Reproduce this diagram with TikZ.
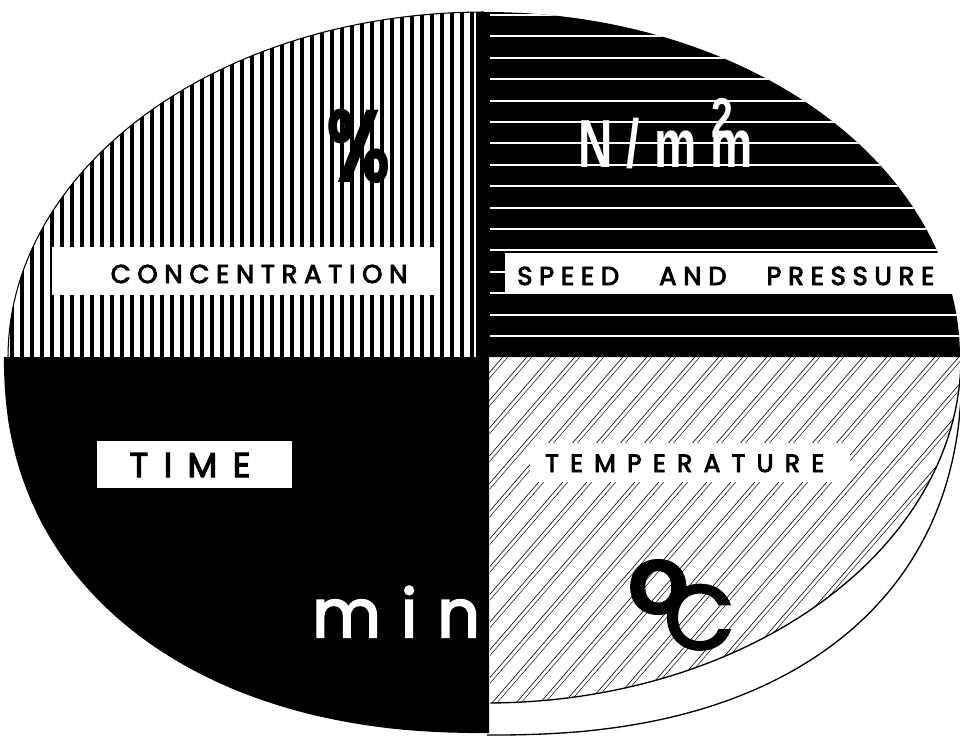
\documentclass[tikz,border=0pt]{standalone}
\usepackage{fontspec}
\usepackage{graphicx}
\setmainfont{Poppins}
\newfontfamily\labelfont[LetterSpace=26,FakeBold=3.5]{Poppins}
\newfontfamily\widefont[LetterSpace=45,FakeBold=3.5]{Poppins}
\newfontfamily\minfont[LetterSpace=30,FakeBold=3]{Poppins}
\newfontfamily\signfont[FakeBold=3]{Poppins}
\newfontfamily\unitfont[LetterSpace=30]{Liberation Sans}
\begin{document}
\begin{tikzpicture}[x=0.75pt,y=-0.75pt]
\useasboundingbox (0,0) rectangle (960,739);

% Concentration: vertical stripes
\begin{scope}
\clip (476,357) -- (476,12) -- plot[domain=90:180,samples=60,variable=\t]
  ({484+476*cos(\t)},{357-345*sin(\t)}) -- cycle;
\foreach \x in {12,22,...,472}
{
\fill (\x-1.9,0) rectangle (\x+1.9,357);
}
\end{scope}
\draw[line width=0.8pt] plot[domain=90:180,samples=60,variable=\t]
  ({484+476*cos(\t)},{357-345*sin(\t)});
\fill[white] (52,247) rectangle (437,295);
\node[anchor=base] (conc) at (259,283) {\labelfont\fontsize{19.4}{20}\selectfont CONCENTRATION};
\node[anchor=base west,inner sep=0] (pct) at (326,182)
  {\scalebox{0.72}[1]{\bfseries\fontsize{77}{77}\selectfont\%}};

% Speed and pressure: black with white lines
\fill (476,357) -- (476,12) -- plot[domain=90:0,samples=60,variable=\t]
  ({487+473*cos(\t)},{357-345*sin(\t)}) -- cycle;
\begin{scope}
\clip (476,357) -- (476,12) -- plot[domain=90:0,samples=60,variable=\t]
  ({487+473*cos(\t)},{357-345*sin(\t)}) -- cycle;
\foreach \k in {0,...,15}
{
\draw[white,line width=1.5pt] (490,15+21.4*\k) -- (970,15+21.4*\k);
}
\end{scope}
\fill[white] (505,253) rectangle (955,293);
\node[anchor=base west,inner sep=0] (speed) at (517,285)
  {\labelfont\fontsize{19.4}{20}\selectfont SPEED\hspace{30pt}AND\hspace{30pt}PRESSURE};
\node[white,anchor=base west,inner sep=0] (pres) at (578,167)
  {\scalebox{0.7}[1]{\unitfont\bfseries\fontsize{51}{51}\selectfont N/mm\kern-0.88em\raisebox{22pt}{\fontsize{42}{42}\selectfont 2}}};

% Time: black
\fill (489,357) -- plot[domain=0:90,samples=80,variable=\t]
  ({484-480*pow(abs(cos(\t))+0.0001,0.909)},{357+376*pow(abs(sin(\t))+0.0001,0.909)})
  -- (489,733) -- cycle;
\fill[white] (97,441) rectangle (292,488);
\node[anchor=base] (time) at (190,477) {\widefont\fontsize{25.8}{26}\selectfont TIME};
\node[white,anchor=base west,inner sep=0] (minu) at (312,637)
  {\minfont\fontsize{50}{50}\selectfont min};

% Temperature: hatching and raised edge
\begin{scope}
\clip (489,357) -- (962,357) -- plot[domain=0:-89.6,samples=60,variable=\t]
  ({487+474*cos(\t)},{357-346*sin(\t)}) -- cycle;
\foreach \c in {100,124,...,1020}
{
\draw[line width=0.45pt] (\c,740) -- ++(380,-440);
\draw[line width=0.35pt] (\c+5,740) -- ++(380,-440);
}
\end{scope}
\draw[line width=1pt] plot[domain=0:-89.6,samples=60,variable=\t]
  ({487+474*cos(\t)},{357-346*sin(\t)});
\draw[line width=1pt] plot[domain=0:90,samples=80,variable=\t]
  ({487+475*pow(abs(cos(\t))+0.0001,0.851)},{357+378*pow(abs(sin(\t))+0.0001,0.851)});
\fill[white] (530,443) rectangle (850,482);
\node[anchor=base west,inner sep=0] (temp) at (545,472)
  {\widefont\fontsize{18.8}{19}\selectfont TEMPERATURE};
\node[anchor=base west,inner sep=0] (degc) at (628,649)
  {\signfont\raisebox{-11pt}{\fontsize{110}{110}\selectfont °}\kern-18pt\fontsize{68}{68}\selectfont C};

\end{tikzpicture}
\end{document}
